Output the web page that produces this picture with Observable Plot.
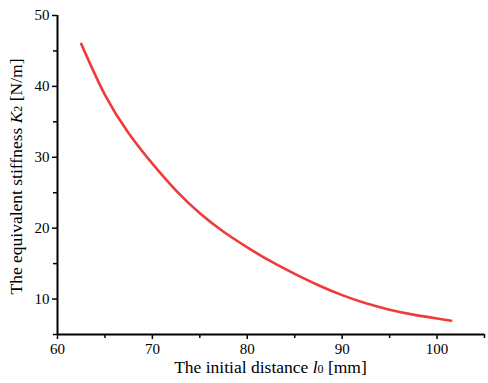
<!DOCTYPE html>
<html><head><meta charset="utf-8">
<script src="https://cdn.jsdelivr.net/npm/d3@7"></script>
<script src="https://cdn.jsdelivr.net/npm/@observablehq/plot@0.6"></script>
<style>body{margin:0;background:#fff}</style>
</head><body><div id="chart"></div>
<script>
const distance = [62.5, 65, 67.5, 70, 72.5, 75, 77.5, 80, 82.5, 85, 87.5, 90, 92.5, 95, 97.5, 100, 101.5];
const stiffness = [46.0, 38.8, 33.4, 29.1, 25.3, 22.1, 19.5, 17.3, 15.3, 13.55, 11.95, 10.55, 9.4, 8.5, 7.8, 7.25, 6.95];
const xTicks = [60, 70, 80, 90, 100];
const xMinor = [65, 75, 85, 95, 105];
const yTicks = [10, 20, 30, 40, 50];
const yMinor = [5, 15, 25, 35, 45];

const data = distance.map((d, i) => ({x: d, y: stiffness[i]}));
const font = "'Liberation Serif', 'Times New Roman', serif";

const plot = Plot.plot({
  width: 488, height: 383,
  marginLeft: 57, marginRight: 4, marginTop: 15, marginBottom: 49,
  style: {fontFamily: font, fontSize: "15px", color: "#000", background: "#fff"},
  x: {domain: [60, 105]},
  y: {domain: [5, 50]},
  marks: [
    Plot.axisX({ticks: xMinor, tickSize: 4, tickFormat: () => "", strokeWidth: 1.5, label: null}),
    Plot.axisX({ticks: xTicks, tickSize: 5, tickPadding: 4, strokeWidth: 1.5, label: null, fontSize: 15, fontFamily: font}),
    Plot.axisY({ticks: yMinor, tickSize: 4, tickFormat: () => "", strokeWidth: 1.5, label: null}),
    Plot.axisY({ticks: yTicks, tickSize: 5, tickPadding: 3, strokeWidth: 1.5, label: null, fontSize: 15, fontFamily: font}),
    Plot.ruleY([5], {stroke: "#000", strokeWidth: 2}),
    Plot.ruleX([60], {stroke: "#000", strokeWidth: 2}),
    Plot.line(data, {x: "x", y: "y", stroke: "#ee3b3b", strokeWidth: 2.6, curve: "natural"})
  ]
});

const svg = d3.select(plot);
svg.selectAll("text").attr("font-family", font);
const xs = plot.scale("x"), ys = plot.scale("y");
const cx = (xs.range[0] + xs.range[1]) / 2;
const cy = (ys.range[0] + ys.range[1]) / 2 + 2;

const xt = svg.append("text").attr("x", cx).attr("y", 373).attr("text-anchor", "middle")
  .attr("font-family", font).attr("font-size", 17.5).attr("fill", "#000");
xt.append("tspan").text("The initial distance ");
xt.append("tspan").attr("font-style", "italic").text("l");
xt.append("tspan").attr("font-size", 12).text("0");
xt.append("tspan").text(" [mm]");

const yt = svg.append("text").attr("transform", `translate(22,${cy}) rotate(-90)`).attr("text-anchor", "middle")
  .attr("font-family", font).attr("font-size", 17.5).attr("fill", "#000");
yt.append("tspan").text("The equivalent stiffness ");
yt.append("tspan").attr("font-style", "italic").text("K");
yt.append("tspan").attr("font-size", 12).text("2");
yt.append("tspan").text(" [N/m]");

document.getElementById("chart").appendChild(plot);
</script>
</body></html>
